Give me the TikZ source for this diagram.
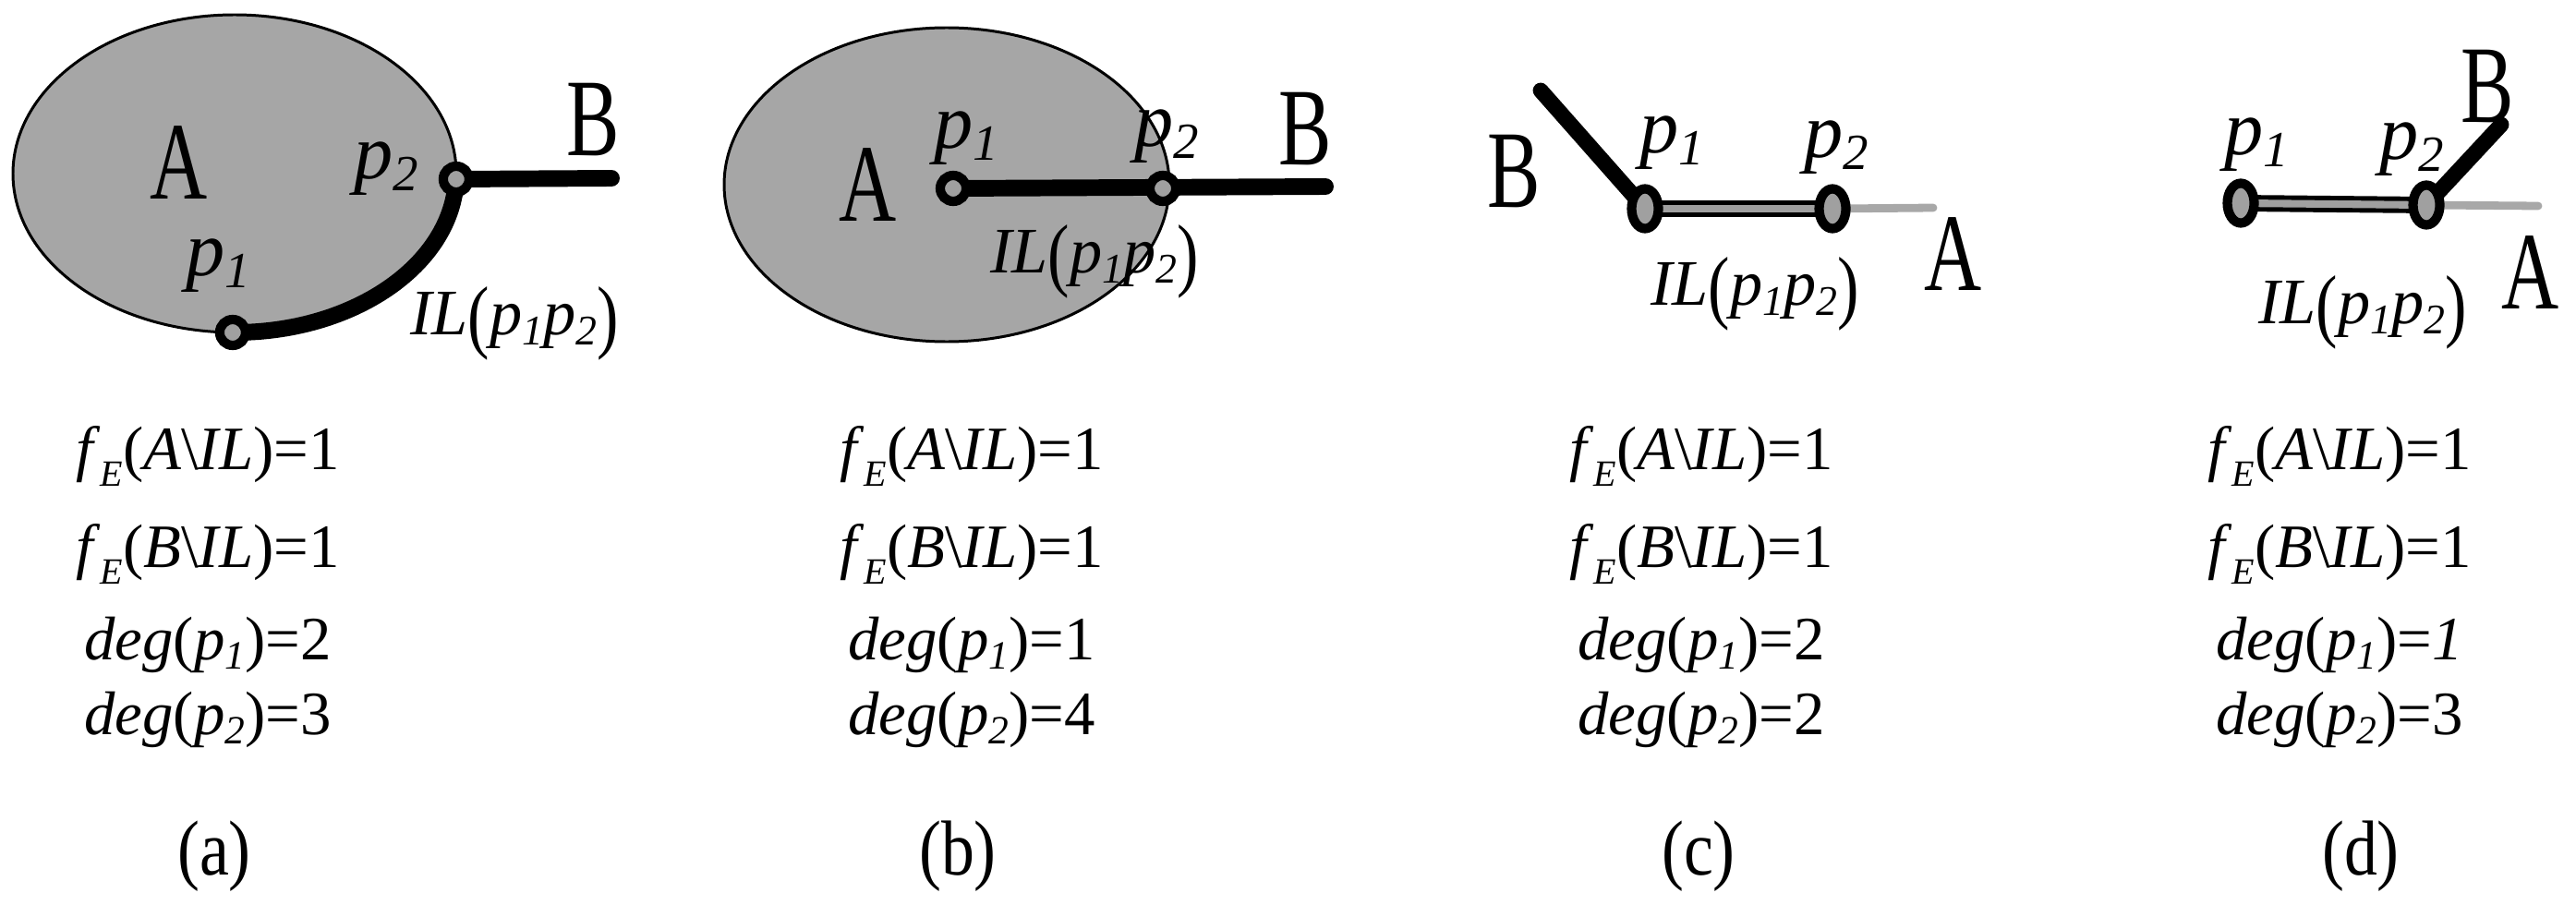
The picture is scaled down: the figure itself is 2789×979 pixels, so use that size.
\documentclass[tikz,border=0pt]{standalone}
\usepackage{fontspec}
\setmainfont{Liberation Serif}
\usepackage{graphicx}
\usetikzlibrary{shapes.geometric}
\definecolor{regiong}{RGB}{166,166,166}
\definecolor{markg}{RGB}{160,160,160}
\definecolor{tailg}{RGB}{168,168,168}
\newcommand{\lowsub}[1]{\raisebox{-0.15em}{\scalebox{0.65}{#1}}}
\newcommand{\esub}{\raisebox{-0.28em}{\scalebox{0.6}{\itshape E}}}
\newcommand{\narrow}[1]{\scalebox{0.72}[1]{#1}}
\newcommand{\capnarrow}[1]{\scalebox{0.85}[1]{#1}}
\newcommand{\ilabel}{\textit{IL}\raisebox{-0.12em}{\scalebox{1}[1.25]{(}}\textit{p}\lowsub{\textit{1}}\textit{p}\lowsub{\textit{2}}\raisebox{-0.12em}{\scalebox{1}[1.25]{)}}}
\newcommand{\plab}[1]{p\lowsub{#1}}
\newcommand{\fA}{\textit{f}\esub(\textit{A}\textbackslash\textit{IL})=1}
\newcommand{\fB}{\textit{f}\esub(\textit{B}\textbackslash\textit{IL})=1}
\newcommand{\dg}[2]{\textit{deg}(\textit{p}\lowsub{\textit{#1}})=#2}
\begin{document}
\begin{tikzpicture}[x=0.01cm,y=-0.01cm,
  region/.style={draw=black,fill=regiong,line width=0.85pt},
  boldline/.style={line width=5.1pt,line cap=round},
  bstroke/.style={line width=4.8pt,line cap=round},
  ilouter/.style={line width=5.1pt},
  ilinner/.style={line width=2.3pt,draw=markg},
  tail/.style={line width=2.5pt,draw=tailg,line cap=round},
  rmark/.style={circle,draw=black,fill=markg,line width=2.9pt,inner sep=0pt,minimum size=0.28cm},
  emark/.style={ellipse,draw=black,fill=markg,line width=2.9pt,inner sep=0pt,minimum width=0.29cm,minimum height=0.43cm},
  biglbl/.style={inner sep=0pt,font=\fontsize{34}{34}\selectfont},
  plbl/.style={inner sep=0pt,font=\fontsize{24}{24}\selectfont\itshape},
  illbl/.style={inner sep=0pt,font=\fontsize{20}{20}\selectfont},
  frm/.style={inner sep=0pt,anchor=base,font=\fontsize{19}{19}\selectfont},
  caplbl/.style={inner sep=0pt,font=\fontsize{24}{24}\selectfont}]
\useasboundingbox (0,0) rectangle (2789,979);

% ---------- (a) ----------
\coordinate (p2a) at (493.9,194.0);
\coordinate (p1a) at (251.9,360.0);
\coordinate (Ba) at (662,193);
\draw[region] (254,188) ellipse [x radius=240, y radius=172];
\draw[boldline] (p2a) arc [start angle=2, end angle=90.5, x radius=240, y radius=172];
\draw[boldline] (p2a) -- (Ba);
\node[rmark] (m1a) at (p1a) {};
\node[rmark] (m2a) at (p2a) {};
\node[biglbl] (LAa) at (194,176) {\narrow{A}};
\node[biglbl] (LBa) at (642,130) {\narrow{B}};
\node[plbl] (lp2a) at (418,183) {\plab{2}};
\node[plbl] (lp1a) at (236,288) {\plab{1}};
\node[illbl] (ILa) at (557,350) {\ilabel};

% ---------- (b) ----------
\coordinate (p1b) at (1032,204);
\coordinate (p2b) at (1259,204);
\coordinate (Bb) at (1435,202);
\draw[region] (1025,200) ellipse [x radius=241, y radius=170];
\draw[boldline] (p1b) -- (Bb);
\node[rmark] (m1b) at (p1b) {};
\node[rmark] (m2b) at (p2b) {};
\node[biglbl] (LAb) at (940,200) {\narrow{A}};
\node[biglbl] (LBb) at (1413,140) {\narrow{B}};
\node[plbl] (lp1b) at (1046,150) {\plab{1}};
\node[plbl] (lp2b) at (1263,148) {\plab{2}};
\node[illbl] (ILb) at (1185,283) {\ilabel};

% ---------- (c) ----------
\coordinate (p1c) at (1781,226);
\coordinate (p2c) at (1984,226);
\coordinate (Bc) at (1668,98);
\coordinate (Ac) at (2093,225);
\draw[bstroke] (Bc) -- (p1c);
\draw[ilouter] (p1c) -- (p2c);
\draw[ilinner] (p1c) -- (p2c);
\draw[tail] (p2c) -- (Ac);
\node[emark] (m1c) at (p1c) {};
\node[emark] (m2c) at (p2c) {};
\node[biglbl] (LBc) at (1639,186) {\narrow{B}};
\node[biglbl] (LAc) at (2115,275) {\narrow{A}};
\node[plbl] (lp1c) at (1810,155) {\plab{1}};
\node[plbl] (lp2c) at (1988,160) {\plab{2}};
\node[illbl] (ILc) at (1900,318) {\ilabel};

% ---------- (d) ----------
\coordinate (p1d) at (2426,220);
\coordinate (p2d) at (2627,222);
\coordinate (Bd) at (2708,135);
\coordinate (Ad) at (2748,223);
\draw[ilouter] (p1d) -- (p2d);
\draw[ilinner] (p1d) -- (p2d);
\draw[tail] (p2d) -- (Ad);
\draw[bstroke] (p2d) -- (Bd);
\node[emark] (m1d) at (p1d) {};
\node[emark] (m2d) at (p2d) {};
\node[biglbl] (LBd) at (2693,94) {\narrow{B}};
\node[biglbl] (LAd) at (2740,295) {\narrow{A}};
\node[plbl] (lp1d) at (2443,157) {\plab{1}};
\node[plbl] (lp2d) at (2611,162) {\plab{2}};
\node[illbl] (ILd) at (2558,338) {\ilabel};

% ---------- formulas ----------
\node[frm] (fa1) at (225,508) {\fA};
\node[frm] (fa2) at (225,614) {\fB};
\node[frm] (fa3) at (225,714) {\dg{1}{2}};
\node[frm] (fa4) at (225,795) {\dg{2}{3}};
\node[frm] (fb1) at (1052,508) {\fA};
\node[frm] (fb2) at (1052,614) {\fB};
\node[frm] (fb3) at (1052,714) {\dg{1}{1}};
\node[frm] (fb4) at (1052,795) {\dg{2}{4}};
\node[frm] (fc1) at (1842,508) {\fA};
\node[frm] (fc2) at (1842,614) {\fB};
\node[frm] (fc3) at (1842,714) {\dg{1}{2}};
\node[frm] (fc4) at (1842,795) {\dg{2}{2}};
\node[frm] (fd1) at (2533,508) {\fA};
\node[frm] (fd2) at (2533,614) {\fB};
\node[frm] (fd3) at (2533,714) {\dg{1}{\textit{1}}};
\node[frm] (fd4) at (2533,795) {\dg{2}{3}};

% ---------- captions ----------
\node[caplbl] (ca) at (232,927) {\capnarrow{(a)}};
\node[caplbl] (cb) at (1037,927) {\capnarrow{(b)}};
\node[caplbl] (cc) at (1839,927) {\capnarrow{(c)}};
\node[caplbl] (cd) at (2556,927) {\capnarrow{(d)}};
\end{tikzpicture}
\end{document}
